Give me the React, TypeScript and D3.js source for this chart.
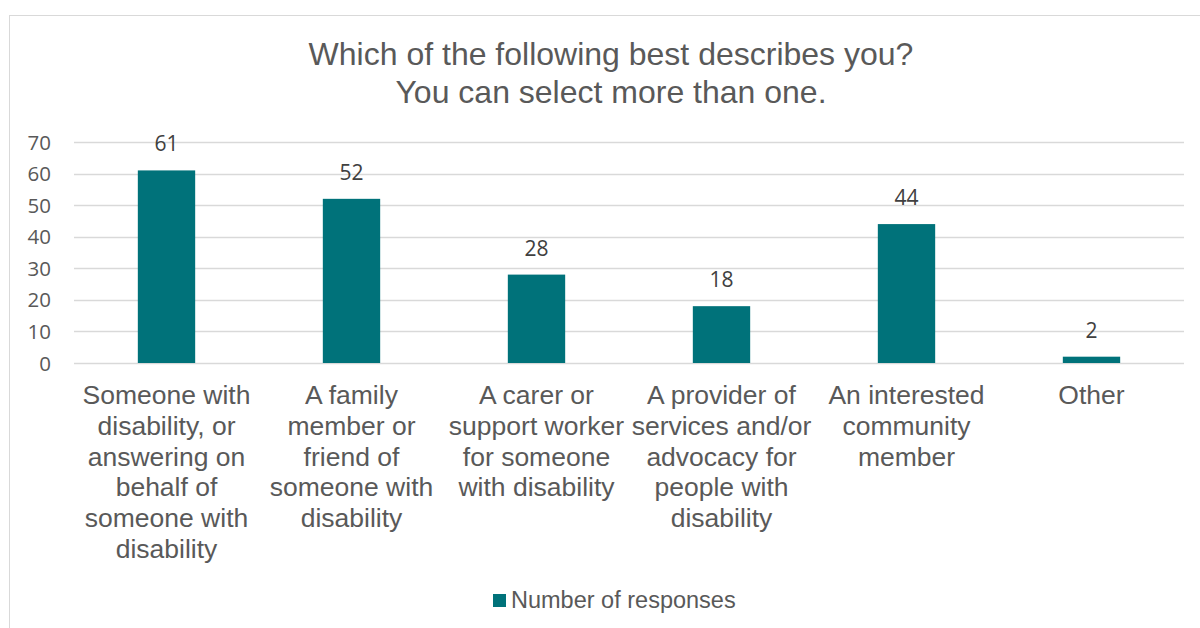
import React from "react";
import * as d3 from "d3";

const categories: string[][] = [
  ["Someone with", "disability, or", "answering on", "behalf of", "someone with", "disability"],
  ["A family", "member or", "friend of", "someone with", "disability"],
  ["A carer or", "support worker", "for someone", "with disability"],
  ["A provider of", "services and/or", "advocacy for", "people with", "disability"],
  ["An interested", "community", "member"],
  ["Other"],
];
const values: number[] = [61, 52, 28, 18, 44, 2];
const yTicks: number[] = [0, 10, 20, 30, 40, 50, 60, 70];
const titleLines: string[] = ["Which of the following best describes you?", "You can select more than one."];
const seriesName = "Number of responses";

const W = 1200;
const H = 628;
const plotLeft = 74;
const plotRight = 1184;
const plotTop = 142;
const plotBottom = 363;
const barColor = "#00727A";
const textGray = "#595959";
const gridColor = "#D9D9D9";

export default function App() {
  const x = d3
    .scaleBand<number>()
    .domain(values.map((_, i) => i))
    .range([plotLeft, plotRight])
    .paddingInner(0.69)
    .paddingOuter(0.345);
  const band = d3.scaleBand<number>().domain(values.map((_, i) => i)).range([plotLeft, plotRight]);
  const y = d3.scaleLinear().domain([0, 70]).range([plotBottom, plotTop]);

  return (
    <svg
      width={W}
      height={H}
      style={{ position: "absolute", left: 0, top: 0, background: "#fff" }}
    >
      <rect x={9.5} y={15.5} width={W} height={H} fill="#fff" stroke={gridColor} strokeWidth={1} />
      <g fontFamily="'Liberation Sans', Arial, sans-serif" fill={textGray} textAnchor="middle">
        {titleLines.map((t, i) => (
          <text key={i} x={611} y={65 + i * 38} fontSize={32}>
            {t}
          </text>
        ))}
      </g>
      <g>
        {yTicks.map((t) => (
          <line
            key={t}
            x1={plotLeft}
            x2={plotRight}
            y1={Math.round(y(t)) + 0.5}
            y2={Math.round(y(t)) + 0.5}
            stroke={gridColor}
            strokeWidth={1.5}
          />
        ))}
      </g>
      <g fontFamily="'Open Sans', sans-serif" fontSize={20.5} fill={textGray} textAnchor="end">
        {yTicks.map((t) => (
          <text key={t} x={51} y={y(t) + 7.5}>
            {t}
          </text>
        ))}
      </g>
      <g>
        {values.map((v, i) => (
          <rect
            key={i}
            x={x(i)}
            y={y(v)}
            width={x.bandwidth()}
            height={y(0) - y(v)}
            fill={barColor}
          />
        ))}
      </g>
      <g fontFamily="'Open Sans', sans-serif" fontSize={21} fill="#404040" textAnchor="middle">
        {values.map((v, i) => (
          <text key={i} x={(x(i) as number) + x.bandwidth() / 2} y={y(v) - 19}>
            {v}
          </text>
        ))}
      </g>
      <g fontFamily="'Liberation Sans', Arial, sans-serif" fontSize={26.5} fill={textGray} textAnchor="middle">
        {categories.map((lines, i) => (
          <text key={i} x={(band(i) as number) + band.bandwidth() / 2} y={404}>
            {lines.map((l, j) => (
              <tspan key={j} x={(band(i) as number) + band.bandwidth() / 2} dy={j === 0 ? 0 : 30.8}>
                {l}
              </tspan>
            ))}
          </text>
        ))}
      </g>
      <g>
        <rect x={493} y={594} width={13} height={13} fill={barColor} />
        <text x={511} y={608} fontFamily="'Liberation Sans', Arial, sans-serif" fontSize={23.5} fill={textGray}>
          {seriesName}
        </text>
      </g>
    </svg>
  );
}
